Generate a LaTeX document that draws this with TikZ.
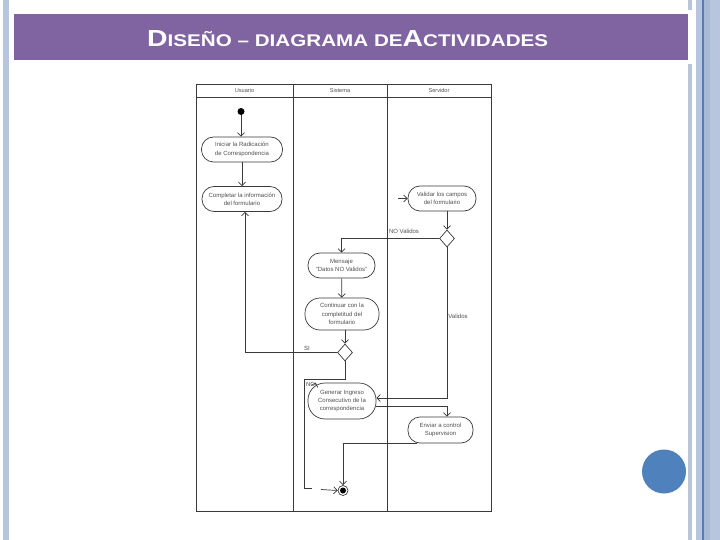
\documentclass[tikz,border=0pt]{standalone}
\usepackage{graphicx}
\usepackage{fontspec}
\setmainfont{Liberation Sans}
\usetikzlibrary{arrows.meta,shapes.geometric}
\definecolor{barpurple}{HTML}{8064A2}
\definecolor{strip}{HTML}{B7C5DD}
\definecolor{stripdark}{HTML}{5A7AB0}
\definecolor{stripmid}{HTML}{A8B9D6}
\definecolor{ballblue}{HTML}{4F81BD}
\definecolor{ink}{HTML}{3A3A3A}
\definecolor{txt}{HTML}{505050}
\begin{document}
\begin{tikzpicture}[x=1pt,y=-1pt,
  act/.style={draw=ink, line width=0.7pt, rounded corners=12pt, align=center, inner sep=0pt,
              font=\fontsize{6}{8.3}\selectfont, text=txt},
  flow/.style={draw=ink, line width=0.7pt, -{Straight Barb[length=3.5pt,width=7pt]}},
  wire/.style={draw=ink, line width=0.7pt},
  dec/.style={diamond, draw=ink, line width=0.7pt, minimum width=15pt, minimum height=17pt, inner sep=0pt},
  lbl/.style={font=\fontsize{6}{7}\selectfont, text=txt, inner sep=0pt},
  hdr/.style={font=\fontsize{5.6}{6}\selectfont, text=txt, inner sep=0pt}]
\fill[white] (0,0) rectangle (720,540);
\useasboundingbox (0,0) rectangle (720,540);
% slide decoration
\fill[strip] (3,0) rectangle (9,540);
\fill[barpurple] (14,14) rectangle (688,60);
\fill[strip] (688,0) rectangle (692,10);
\fill[strip] (688,64) rectangle (692,540);
\fill[strip] (696,0) rectangle (720,540);
\fill[stripmid] (703,0) rectangle (710,540);
\fill[stripdark] (702,0) rectangle (703.5,540);
\fill[ballblue] (664,471.5) circle (22);
\node[anchor=west, text=white, inner sep=0pt] (title) at (147,39)
  {\resizebox{401pt}{16pt}{\bfseries{\fontsize{22}{22}\selectfont D}{\fontsize{16}{16}\selectfont ISEÑO – DIAGRAMA DE}{\fontsize{22}{22}\selectfont A}{\fontsize{16}{16}\selectfont CTIVIDADES}}};
% swimlane frame
\draw[ink, line width=0.8pt] (196,84) rectangle (491,511);
\draw[ink, line width=0.8pt] (196,97) -- (491,97);
\draw[ink, line width=0.8pt] (293,84) -- (293,511);
\draw[ink, line width=0.8pt] (387,84) -- (387,511);
\node[hdr] (h1) at (244.5,90.5) {Usuario};
\node[hdr] (h2) at (340,90.5) {Sistema};
\node[hdr] (h3) at (439,90.5) {Servidor};
% nodes
\node[circle, fill=black, minimum size=7pt, inner sep=0pt] (start) at (241,111.5) {};
\node[act, minimum width=81pt, minimum height=25pt] (ini) at (242,149.5) {Iniciar la Radicación\\de Correspondencia};
\node[act, minimum width=80pt, minimum height=25pt] (comp) at (242,199) {Completar la información\\del formulario};
\node[act, minimum width=68pt, minimum height=25pt] (val) at (442,198.5) {Validar los campos\\del formulario};
\node[dec] (d1) at (447,238.5) {};
\node[act, minimum width=67pt, minimum height=25pt] (msg) at (341.5,265.5) {Mensaje\\"Datos NO Validos"};
\node[act, minimum width=74pt, minimum height=32pt, rounded corners=15pt] (cont) at (342,314) {Continuar con la\\completitud del\\formulario};
\node[dec] (d2) at (345,352.5) {};
\node[act, rounded corners=17pt, minimum width=68pt, minimum height=36pt] (gen) at (342,401) {Generar Ingreso\\Consecutivo de la\\correspondencia};
\node[act, minimum width=65pt, minimum height=26pt] (env) at (440.5,430) {Enviar a control\\Supervision};
\node[circle, draw=ink, line width=0.7pt, minimum size=10pt, inner sep=0pt] (end) at (343,490.5) {};
\node[circle, fill=black, minimum size=6pt, inner sep=0pt] (endc) at (end) {};
% helper coordinates
\coordinate (valin) at (398,198.5);
\coordinate (nb) at (304,379);
\coordinate (nbot) at (304,488);
\coordinate (nend) at (312,488);
\coordinate (nstart) at (321,489.5);
\coordinate (noin) at (315,385);
% connectors
\draw[flow] (start) -- (start |- ini.north);
\draw[flow] (ini) -- (comp);
\draw[flow] (d2.west) -| ([xshift=3pt]comp.south);
\draw[flow] (valin) -- (val.west);
\draw[flow] (val.south -| d1) -- (d1.north);
\draw[flow] (d1.west) -| (msg.north);
\draw[flow] (msg) -- (cont);
\draw[flow] (cont.south -| d2) -- (d2.north);
\draw[flow] (d1.south) |- ([yshift=3pt]gen.east);
\draw[flow] ([yshift=-5pt]gen.east) -| (env.north -| d1);
\draw[wire] (d2.south) |- (nb) -- (nbot) -- (nend);
\draw[flow] (nstart) -- (end.west);
\draw[flow] (noin) -- (gen.145);
\draw[flow] ([xshift=9pt]env.south west) -| (end.north);
% labels
\node[lbl] (lnov) at (404,231) {NO Validos};
\node[lbl] (lval) at (458,316) {Validos};
\node[lbl] (lsi) at (307,348) {SI};
\node[lbl] (lno) at (310.5,384) {NO};
\end{tikzpicture}
\end{document}
